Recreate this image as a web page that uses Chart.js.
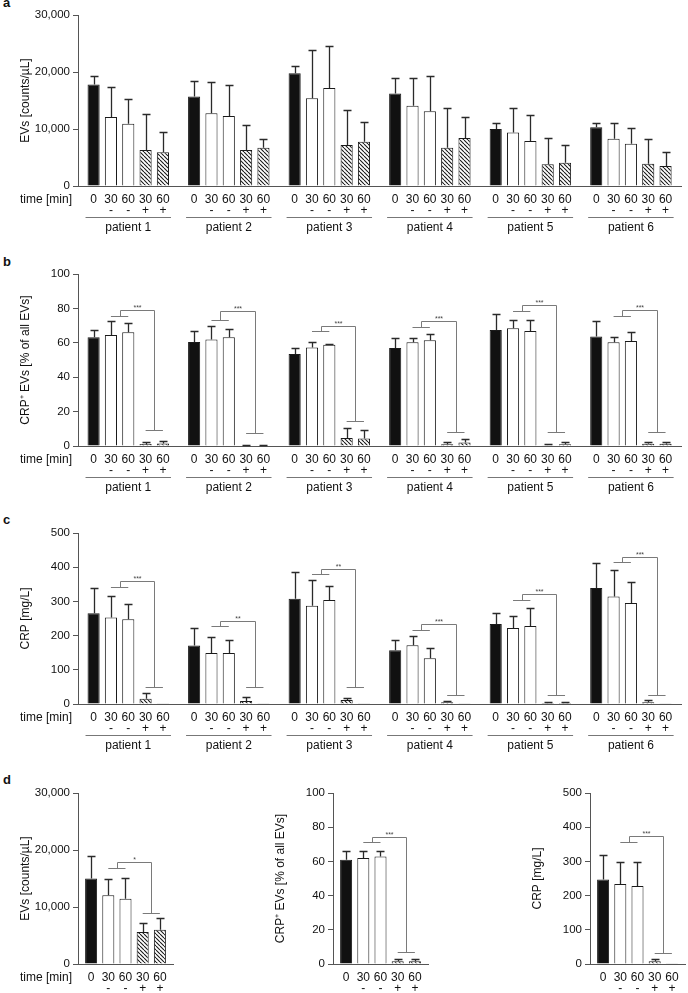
<!DOCTYPE html>
<html>
<head>
<meta charset="utf-8">
<script src="https://cdn.jsdelivr.net/npm/chart.js@4.4.1/dist/chart.umd.min.js"></script>
<style>
  body { margin: 0; width: 688px; height: 993px; overflow: hidden; background: #fff; position: relative; }
  canvas { position: absolute; }
  .tag { position: absolute; left: 3px; font: bold 13px "Liberation Sans", Arial, sans-serif; line-height: 13px; color: #111; }
</style>
</head>
<body>
<div class="tag" style="top:-4px">a</div>
<div class="tag" style="top:255px">b</div>
<div class="tag" style="top:513px">c</div>
<div class="tag" style="top:773px">d</div>
<canvas id="chartA" style="left:0;top:0" width="688" height="236"></canvas>
<canvas id="chartB" style="left:0;top:250px" width="688" height="246"></canvas>
<canvas id="chartC" style="left:0;top:500px" width="688" height="254"></canvas>
<canvas id="chartD1" style="left:0;top:750px" width="180" height="243"></canvas>
<canvas id="chartD2" style="left:255px;top:750px" width="180" height="243"></canvas>
<canvas id="chartD3" style="left:512px;top:750px" width="176" height="243"></canvas>
<script>
var patients = ['patient 1', 'patient 2', 'patient 3', 'patient 4', 'patient 5', 'patient 6'];
var timeLabels = ['0', '30', '60', '30', '60'];
var signLabels = ['', '-', '-', '+', '+'];

// rows: 0 min, 30 -, 60 -, 30 +, 60 +   columns: patients
var evMean = [
    [17800, 15700, 19800, 16250, 10000, 10300],
    [12100, 12750, 15400, 14100, 9400, 8300],
    [10900, 12300, 17200, 13100, 7900, 7400],
    [6300, 6300, 7200, 6700, 3800, 3900],
    [5900, 6700, 7750, 8400, 4100, 3500]
];
var evSd = [
    [1500, 2700, 1300, 2650, 1000, 800],
    [5200, 5550, 8400, 4800, 4300, 2800],
    [4400, 5500, 7300, 6200, 4600, 2800],
    [6400, 4400, 6100, 7000, 4600, 4400],
    [3600, 1600, 3450, 3650, 3100, 2500]
];

var crpEvMean = [
    [63.2, 60.5, 53.5, 57.0, 67.5, 63.6],
    [64.6, 61.9, 57.2, 60.3, 68.5, 60.3],
    [66.1, 63.2, 58.8, 61.5, 66.9, 61.1],
    [1.2, 0.3, 4.7, 1.0, 0.5, 1.3],
    [1.5, 0.3, 4.3, 2.0, 1.0, 1.3]
];
var crpEvSd = [
    [4.1, 6.2, 3.7, 5.6, 9.3, 9.2],
    [8.0, 7.6, 3.1, 2.7, 5.0, 3.3],
    [5.3, 5.1, 0.4, 3.9, 6.6, 5.2],
    [0.9, 0.2, 5.8, 1.1, 0.7, 1.0],
    [1.5, 0.2, 5.2, 2.1, 1.5, 1.0]
];
var crpEvBracketLow = [75.5, 73.5, 66.7, 69.4, 78.4, 75.5];
var crpEvBracketTop = [79, 78.6, 69.6, 72.8, 81.7, 79];
var crpEvBracketHigh = [9.5, 7.8, 14.4, 8, 8, 8];
var crpEvStars = ['***', '***', '***', '***', '***', '***'];

var crpMean = [
    [265, 171, 308, 157, 234, 339],
    [253, 149, 287, 172, 222, 314],
    [248, 149, 304, 134, 228, 295],
    [15, 9, 12, 5, 3, 5],
    [2, 2, 2, 1, 3, 1]
];
var crpSd = [
    [73, 51, 78, 31, 31, 73],
    [62, 46, 76, 27, 35, 78],
    [44, 38, 40, 31, 53, 63],
    [16, 12, 6, 5, 3, 7],
    [0, 0, 0, 0, 3, 0]
];
var crpBracketLow = [341, 227, 379, 217, 305, 414];
var crpBracketTop = [359, 244, 396, 233, 322, 430];
var crpBracketHigh = [49, 49, 50, 27, 27, 27];
var crpStars = ['***', '**', '**', '***', '***', '***'];

// panel d, all patients
var allEvMean = [15000, 12050, 11450, 5600, 6000];
var allEvSd = [4000, 2800, 3650, 1600, 2100];
var allCrpEvMean = [61, 62, 62.8, 1.6, 1.6];
var allCrpEvSd = [5.3, 4.3, 3.5, 1.3, 1.3];
var allCrpMean = [247, 234, 228, 8, 1];
var allCrpSd = [73, 64, 70, 7, 0];

var FONT = '"Liberation Sans", Arial, sans-serif';
Chart.defaults.font.family = FONT;

function hatch() {
    var c = document.createElement('canvas');
    c.width = 4; c.height = 4;
    var g = c.getContext('2d');
    g.fillStyle = '#fff';
    g.fillRect(0, 0, 4, 4);
    g.strokeStyle = '#1a1a1a';
    g.lineWidth = 1.1;
    g.beginPath();
    for (var k = -1; k <= 1; k++) { g.moveTo(k * 4, 0); g.lineTo(k * 4 + 4, 4); }
    g.stroke();
    return g.createPattern(c, 'repeat');
}
var fills = ['#111', '#fff', '#fff', hatch(), hatch()];

/* error bars, brackets and the labels under the bars */
function extras(o) {
    return {
        id: 'extras',
        afterDatasetsDraw: function(chart) {
            var ctx = chart.ctx, ys = chart.scales.y;
            var bars = function(i) { return chart.getDatasetMeta(i).data; };
            ctx.save();
            ctx.strokeStyle = '#2a2a2a';
            ctx.lineWidth = 1.3;
            chart.data.datasets.forEach(function(ds, i) {
                bars(i).forEach(function(bar, j) {
                    var sd = ds.sd[j];
                    if (!sd) return;
                    var x = Math.round(bar.x) + 0.5;
                    var y0 = ys.getPixelForValue(ds.data[j]);
                    var y1 = Math.round(ys.getPixelForValue(ds.data[j] + sd)) + 0.5;
                    ctx.beginPath();
                    ctx.moveTo(x, y0); ctx.lineTo(x, y1);
                    ctx.moveTo(x - 4, y1); ctx.lineTo(x + 4, y1);
                    ctx.stroke();
                });
            });
            if (o.low) {
                ctx.strokeStyle = '#7a7a7a';
                ctx.lineWidth = 1;
                ctx.fillStyle = '#444';
                ctx.font = '7px ' + FONT;
                ctx.textAlign = 'center';
                ctx.textBaseline = 'bottom';
                o.low.forEach(function(v, j) {
                    var xa1 = bars(1)[j].x, xa2 = bars(2)[j].x, xb1 = bars(3)[j].x, xb2 = bars(4)[j].x;
                    var xam = Math.round((xa1 + xa2) / 2) + 0.5, xbm = Math.round((xb1 + xb2) / 2) + 0.5;
                    var ya = Math.round(ys.getPixelForValue(v)) + 0.5;
                    var yt = Math.round(ys.getPixelForValue(o.top[j])) + 0.5;
                    var yb = Math.round(ys.getPixelForValue(o.high[j])) + 0.5;
                    ctx.beginPath();
                    ctx.moveTo(xa1, ya); ctx.lineTo(xa2, ya);
                    ctx.moveTo(xam, ya); ctx.lineTo(xam, yt); ctx.lineTo(xbm, yt); ctx.lineTo(xbm, yb);
                    ctx.moveTo(xb1, yb); ctx.lineTo(xb2, yb);
                    ctx.stroke();
                    ctx.fillText(o.stars[j], (xam + xbm) / 2, yt + 1);
                });
            }
            ctx.restore();
        },
        afterDraw: function(chart) {
            var ctx = chart.ctx, b = chart.chartArea.bottom;
            ctx.save();
            ctx.fillStyle = '#111';
            ctx.font = '12px ' + FONT;
            ctx.textAlign = 'center';
            ctx.textBaseline = 'middle';
            chart.data.datasets.forEach(function(ds, i) {
                chart.getDatasetMeta(i).data.forEach(function(bar) {
                    ctx.fillText(timeLabels[i], bar.x, b + 14);
                    if (signLabels[i]) ctx.fillText(signLabels[i], bar.x, b + 25);
                });
            });
            if (o.timeTitle) {
                ctx.textAlign = 'right';
                ctx.fillText('time [min]', chart.chartArea.left - 6, b + 14);
            }
            if (o.underline) {
                ctx.strokeStyle = '#777';
                ctx.lineWidth = 1;
                var first = chart.getDatasetMeta(0).data, last = chart.getDatasetMeta(4).data;
                first.forEach(function(bar, j) {
                    var y = b + 31.5;
                    ctx.beginPath();
                    ctx.moveTo(bar.x - bar.width / 2 - 2, y);
                    ctx.lineTo(last[j].x + last[j].width / 2 + 2, y);
                    ctx.stroke();
                });
            }
            ctx.restore();
        }
    };
}

function barChart(id, labels, means, sds, o) {
    var datasets = means.map(function(m, i) {
        return {
            data: m,
            sd: sds[i],
            backgroundColor: fills[i],
            borderColor: '#1a1a1a',
            borderWidth: 1,
            barPercentage: 0.7,
            categoryPercentage: o.catPct
        };
    });
    return new Chart(document.getElementById(id), {
        type: 'bar',
        data: { labels: labels, datasets: datasets },
        options: {
            responsive: false,
            animation: false,
            devicePixelRatio: 1,
            layout: { padding: { top: o.padTop, right: o.padRight, left: 0, bottom: 0 } },
            plugins: { legend: { display: false }, tooltip: { enabled: false } },
            scales: {
                x: {
                    grid: { display: false, drawTicks: false },
                    border: { color: '#555', width: 1 },
                    ticks: { display: o.showPatients, color: '#111', font: { size: 12 }, padding: 34, maxRotation: 0, autoSkip: false },
                    afterFit: function(s) { s.height = o.xh; }
                },
                y: {
                    min: 0,
                    max: o.max,
                    ticks: { stepSize: o.step, color: '#111', font: { size: 11.5 }, padding: 3 },
                    grid: { drawOnChartArea: false, drawTicks: true, tickLength: 5, color: '#555' },
                    border: { color: '#555', width: 1 },
                    title: { display: true, text: o.title, color: '#111', font: { size: 12 }, padding: { top: 18, bottom: 0 } },
                    afterFit: function(s) { s.width = 78; }
                }
            }
        },
        plugins: [extras(o)]
    });
}

var wide = { catPct: 0.862, padRight: 1, xh: 50, showPatients: true, underline: true, timeTitle: true };
var narrow = { catPct: 0.905, padRight: 7, xh: 29, showPatients: false, underline: false, padTop: 43 };
function opts(base, extra) { return Object.assign({}, base, extra); }
function single(arr) { return arr.map(function(v) { return [v]; }); }

barChart('chartA', patients, evMean, evSd,
    opts(wide, { padTop: 15, max: 30000, step: 10000, title: 'EVs [counts/\u00b5L]' }));
barChart('chartB', patients, crpEvMean, crpEvSd,
    opts(wide, { padTop: 24, max: 100, step: 20, title: 'CRP\u207a EVs [% of all EVs]',
        low: crpEvBracketLow, top: crpEvBracketTop, high: crpEvBracketHigh, stars: crpEvStars }));
barChart('chartC', patients, crpMean, crpSd,
    opts(wide, { padTop: 33, max: 500, step: 100, title: 'CRP [mg/L]',
        low: crpBracketLow, top: crpBracketTop, high: crpBracketHigh, stars: crpStars }));

barChart('chartD1', [''], single(allEvMean), single(allEvSd),
    opts(narrow, { max: 30000, step: 10000, title: 'EVs [counts/\u00b5L]', timeTitle: true,
        low: [16800], top: [17900], high: [8900], stars: ['*'] }));
barChart('chartD2', [''], single(allCrpEvMean), single(allCrpEvSd),
    opts(narrow, { max: 100, step: 20, title: 'CRP\u207a EVs [% of all EVs]',
        low: [71.2], top: [74.3], high: [7], stars: ['***'] }));
barChart('chartD3', [''], single(allCrpMean), single(allCrpSd),
    opts(narrow, { padRight: 3, max: 500, step: 100, title: 'CRP [mg/L]',
        low: [356], top: [374], high: [33], stars: ['***'] }));
</script>
</body>
</html>
